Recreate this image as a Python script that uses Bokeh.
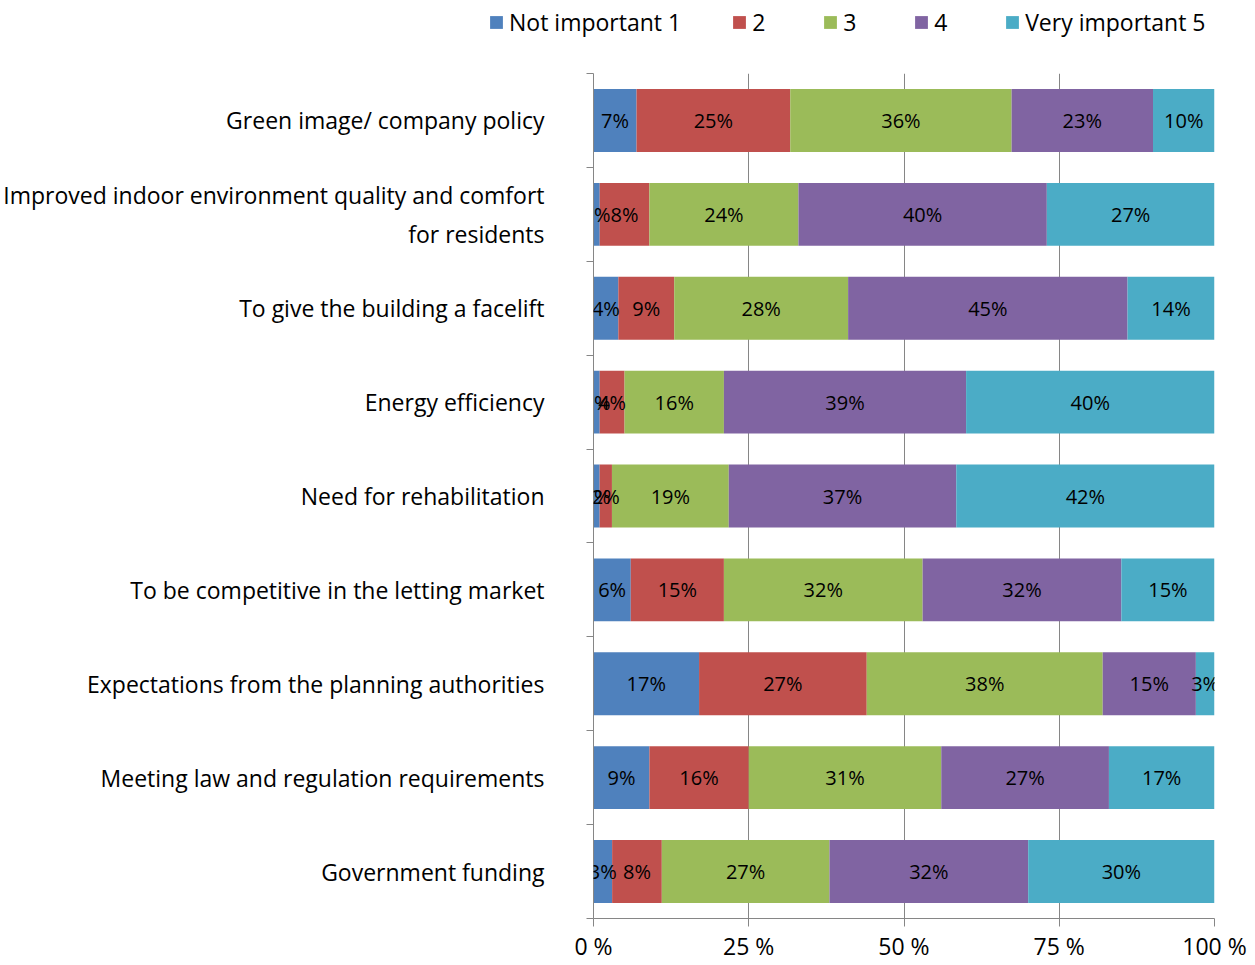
import numpy as np
from bokeh.plotting import figure
from bokeh.layouts import column
from bokeh.models import ColumnDataSource, FixedTicker, Legend, LegendItem, Range1d, LabelSet
from bokeh.core.properties import value
from bokeh.embed import file_html
from bokeh.resources import INLINE

# ---------------- data ----------------
categories = [
    "Green image/ company policy",
    "Improved indoor environment quality and comfort\nfor residents",
    "To give the building a facelift",
    "Energy efficiency",
    "Need for rehabilitation",
    "To be competitive in the letting market",
    "Expectations from the planning authorities",
    "Meeting law and regulation requirements",
    "Government funding",
]
series_names = ["Not important 1", "2", "3", "4", "Very important 5"]
not_important_1 = [7, 1, 4, 1, 1, 6, 17, 9, 3]
rating_2 = [25, 8, 9, 4, 2, 15, 27, 16, 8]
rating_3 = [36, 24, 28, 16, 19, 32, 38, 31, 27]
rating_4 = [23, 40, 45, 39, 37, 32, 15, 27, 32]
very_important_5 = [10, 27, 14, 40, 42, 15, 3, 17, 30]
colors = ["#4F81BD", "#C0504D", "#9BBB59", "#8064A2", "#4BACC6"]
x_ticks = [0, 25, 50, 75, 100]
x_tick_labels = ["0 %", "25 %", "50 %", "75 %", "100 %"]

FONT = "Open Sans"
GREY = "#868686"

series = [not_important_1, rating_2, rating_3, rating_4, very_important_5]
vals = np.array(series, dtype=float)          # (5, 9)
totals = vals.sum(axis=0)
shares = vals / totals * 100.0
rights = np.cumsum(shares, axis=0)
lefts = rights - shares
n = len(categories)
ypos = [n - i - 0.5 for i in range(n)]

# ---------------- legend strip ----------------
# the strip shows only the legend; its ranges keep the series' bars out of view
lg = figure(width=1252, height=73, x_range=Range1d(0, 100), y_range=Range1d(n + 10, n + 11),
            output_backend="svg", toolbar_location=None,
            min_border_left=0, min_border_right=0, min_border_top=0, min_border_bottom=0)
lg.axis.visible = False
lg.grid.visible = False
lg.outline_line_color = None
try:
    lg.frame_align = False
except Exception:
    pass
items = []
for k, name in enumerate(series_names):
    src = ColumnDataSource(dict(y=ypos, left=lefts[k], right=rights[k]))
    r = lg.hbar(y="y", left="left", right="right", height=0.67, source=src,
                fill_color=colors[k], line_color=None)
    items.append(LegendItem(label=name, renderers=[r]))
legend = Legend(items=items, orientation="horizontal", location=(488, 35),
                glyph_width=16, glyph_height=16, label_standoff=5, spacing=50,
                padding=0, margin=0, border_line_color=None, background_fill_alpha=0,
                label_text_font=FONT, label_text_font_size="23px", label_text_color="#000000")
lg.add_layout(legend)

# ---------------- main chart ----------------
p = figure(width=1252, height=892, x_range=Range1d(0, 100), y_range=Range1d(0, n),
           output_backend="svg", toolbar_location=None,
           min_border_left=592, min_border_right=38, min_border_top=0, min_border_bottom=47)
p.outline_line_color = None
try:
    p.frame_align = False
except Exception:
    pass

for k, name in enumerate(series_names):
    src = ColumnDataSource(dict(y=ypos, left=lefts[k], right=rights[k]))
    p.hbar(y="y", left="left", right="right", height=0.67, source=src,
           fill_color=colors[k], line_color=None)

# segment labels
lab_x, lab_y, lab_t = [], [], []
for k in range(len(series_names)):
    for i in range(n):
        lab_x.append((lefts[k][i] + rights[k][i]) / 2)
        lab_y.append(ypos[i])
        lab_t.append(f"{int(series[k][i])}%")
lab_src = ColumnDataSource(dict(x=lab_x, y=lab_y, t=lab_t))
labels = LabelSet(x="x", y="y", text="t", source=lab_src, text_align="center",
                  text_baseline="middle", text_font=value(FONT), text_font_size="20px",
                  text_color="#000000")
p.add_layout(labels)

# x axis
p.xaxis.ticker = FixedTicker(ticks=x_ticks)
p.xaxis.major_label_overrides = {t: l for t, l in zip(x_ticks, x_tick_labels)}
p.xaxis.major_tick_out = 8
p.xaxis.major_tick_in = 0
p.xaxis.minor_tick_line_color = None
p.xaxis.axis_line_color = GREY
p.xaxis.major_tick_line_color = GREY
p.xaxis.major_label_text_font = FONT
p.xaxis.major_label_text_font_size = "23px"
p.xaxis.major_label_text_color = "#000000"
p.xaxis.major_label_standoff = 3

# y axis
p.yaxis.ticker = FixedTicker(ticks=ypos, minor_ticks=list(range(n + 1)))
p.yaxis.major_label_overrides = {y: c for y, c in zip(ypos, categories)}
p.yaxis.major_tick_out = 0
p.yaxis.major_tick_in = 0
p.yaxis.minor_tick_out = 7
p.yaxis.minor_tick_in = 0
p.yaxis.minor_tick_line_color = GREY
p.yaxis.axis_line_color = GREY
p.yaxis.major_label_text_font = FONT
p.yaxis.major_label_text_font_size = "23px"
p.yaxis.major_label_text_color = "#000000"
p.yaxis.major_label_standoff = 42

# grid
p.xgrid.ticker = FixedTicker(ticks=x_ticks)
p.xgrid.grid_line_color = GREY
p.ygrid.grid_line_color = None

layout = column(lg, p, spacing=0)
open("out.html", "w").write(file_html(layout, INLINE))
